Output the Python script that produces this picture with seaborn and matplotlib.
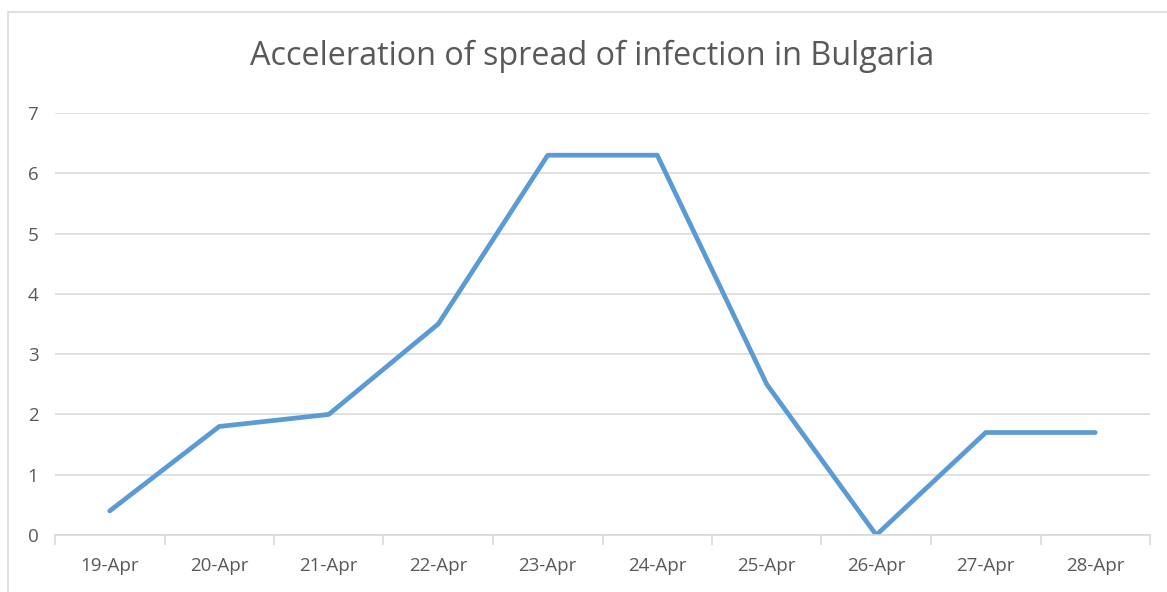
import numpy as np
import pandas as pd
import matplotlib
matplotlib.use("Agg")
import matplotlib.pyplot as plt
import seaborn as sns
from matplotlib.patches import Rectangle
from matplotlib.ticker import FixedLocator

days = ["19-Apr", "20-Apr", "21-Apr", "22-Apr", "23-Apr",
        "24-Apr", "25-Apr", "26-Apr", "27-Apr", "28-Apr"]
acceleration = [0.4, 1.8, 2.0, 3.5, 6.3, 6.3, 2.5, 0.0, 1.7, 1.7]

sns.set_theme(style="white")
plt.rcParams["font.family"] = ["Open Sans", "DejaVu Sans"]

df = pd.DataFrame({"pos": np.arange(len(days)), "value": acceleration})

fig = plt.figure(figsize=(11.67, 5.92), dpi=100)
ax = fig.add_axes([55 / 1167, 1 - 535 / 592, 1095 / 1167, 422 / 592])

sns.lineplot(data=df, x="pos", y="value", ax=ax, color="#5B9BD5",
             linewidth=3.4, solid_capstyle="round", solid_joinstyle="round")

ax.set_xlim(-0.5, len(days) - 0.5)
ax.set_ylim(0, 7)
ax.set_yticks(range(0, 8))
ax.set_xticks(df["pos"])
ax.set_xticklabels(days)
ax.xaxis.set_minor_locator(FixedLocator(np.arange(-0.5, len(days), 1.0)))
ax.tick_params(axis="x", which="major", length=0, pad=16, labelsize=13.5, labelcolor="#595959")
ax.tick_params(axis="x", which="minor", length=7, width=1.2, color="#D9D9D9", direction="out", bottom=True)
ax.tick_params(axis="y", length=0, pad=12, labelsize=13.5, labelcolor="#595959")
ax.grid(axis="y", color="#D9D9D9", linewidth=1.1)
ax.set_axisbelow(True)
for s in ["top", "right", "left"]:
    ax.spines[s].set_visible(False)
ax.spines["bottom"].set_color("#D9D9D9")
ax.spines["bottom"].set_linewidth(1.2)
ax.set_xlabel("")
ax.set_ylabel("")

fig.text(592 / 1167, 1 - 56 / 592, "Acceleration of spread of infection in Bulgaria",
         ha="center", va="center", fontsize=23.3, color="#595959")

fig.patches.append(Rectangle((8 / 1167, -0.05), 1.1, 1 - 12 / 592 + 0.05,
                             transform=fig.transFigure, fill=False,
                             edgecolor="#D9D9D9", linewidth=1.2))

fig.savefig("out.png", dpi=100)
